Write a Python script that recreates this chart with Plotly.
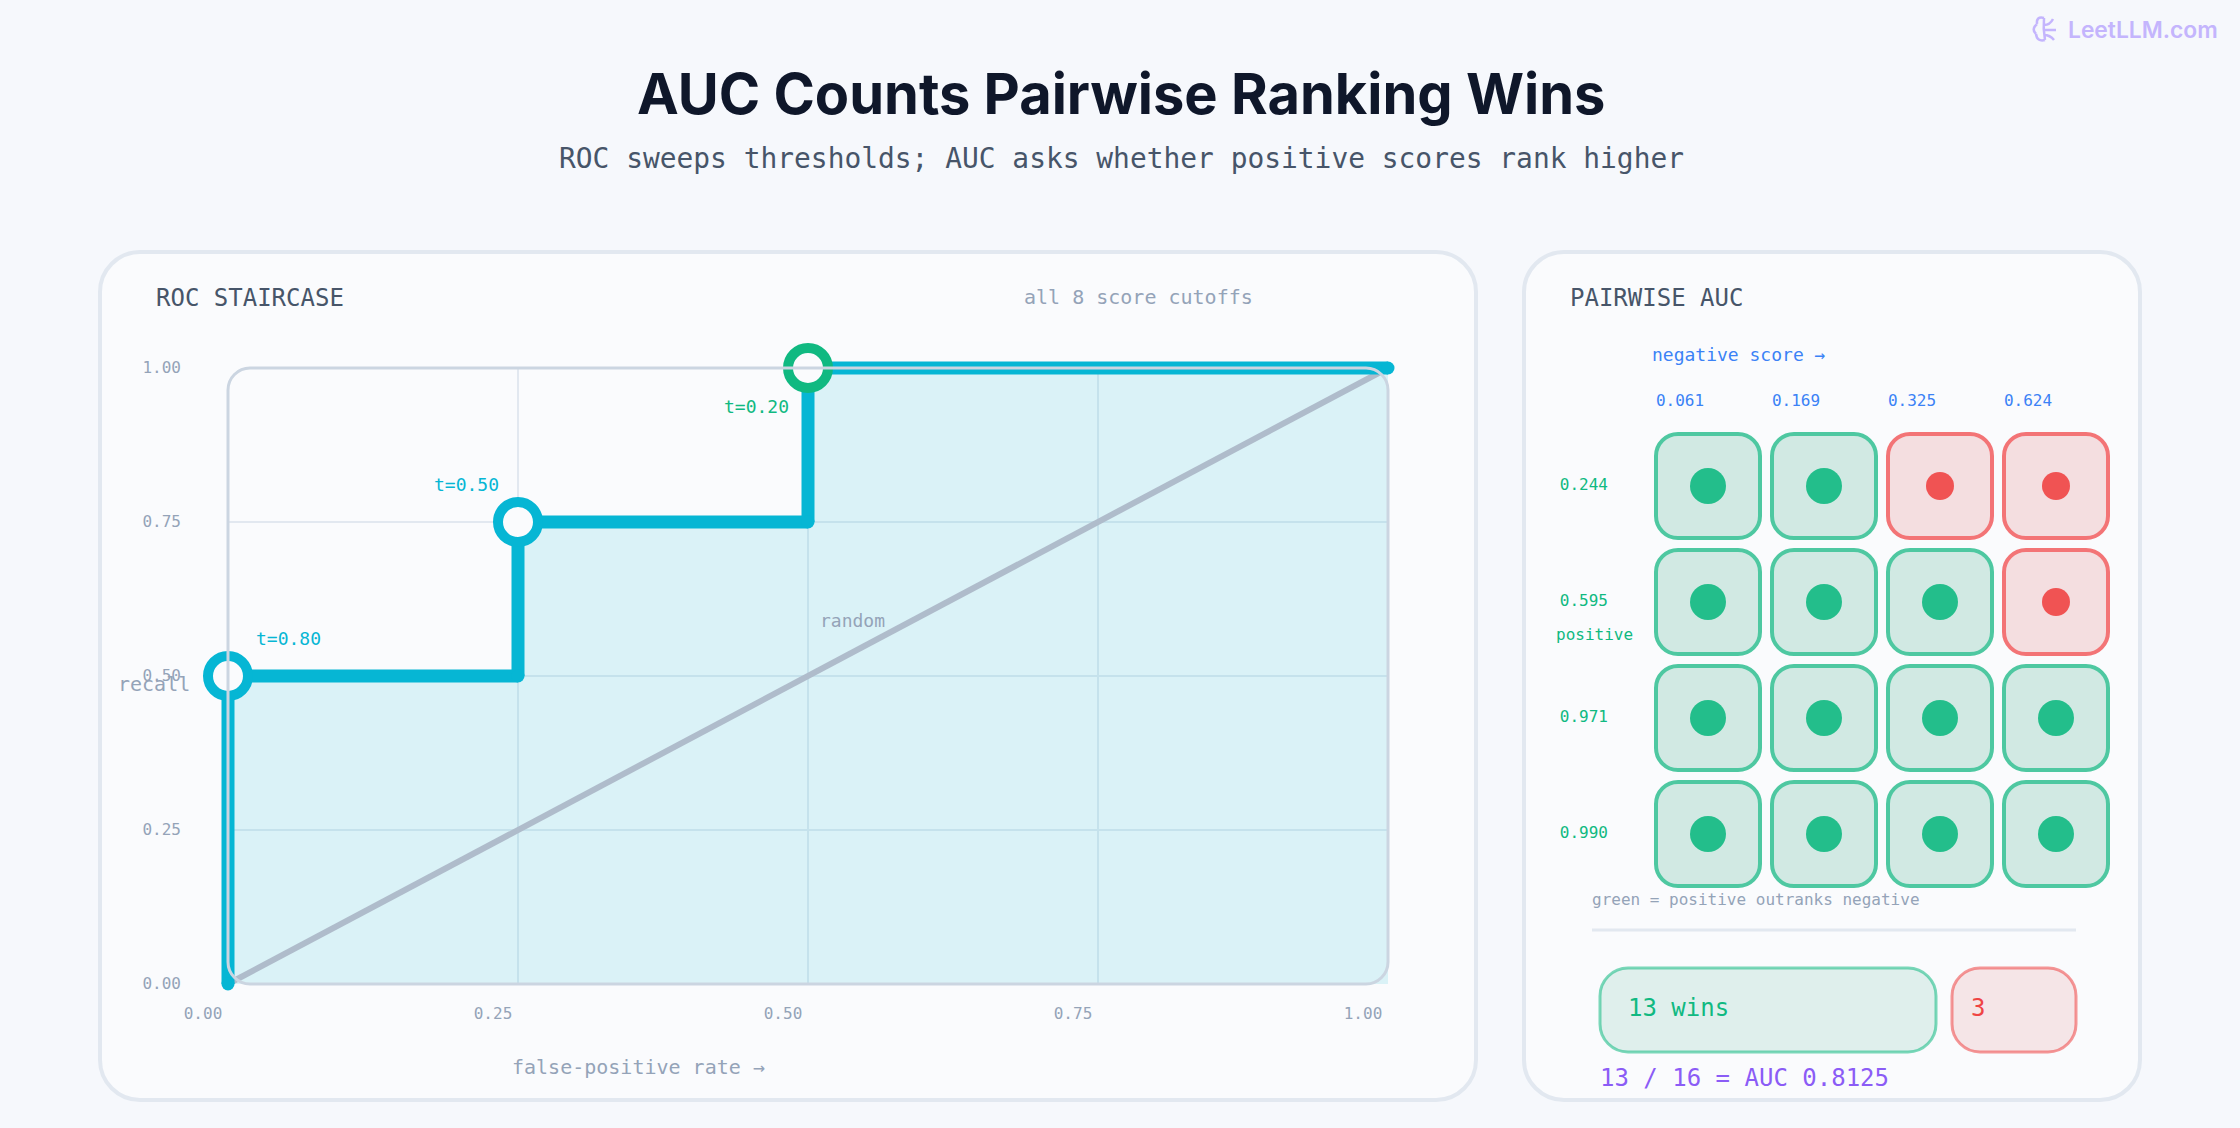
import plotly.graph_objects as go

# ROC staircase
fpr_steps = [0, 0, 0.25, 0.25, 0.5, 0.5, 1]
tpr_steps = [0, 0.5, 0.5, 0.75, 0.75, 1, 1]
cutoff_fpr = [0, 0.25, 0.5]
cutoff_tpr = [0.5, 0.75, 1]
cutoff_names = ["t=0.80", "t=0.50", "t=0.20"]
axis_ticks = [0, 0.25, 0.5, 0.75, 1]
axis_tick_text = ["0.00", "0.25", "0.50", "0.75", "1.00"]

# Pairwise comparison
negative_scores = [0.061, 0.169, 0.325, 0.624]
positive_scores = [0.244, 0.595, 0.971, 0.990]

W, H = 2240, 1128
MONO = "DejaVu Sans Mono"
SANS = "Inter"
BG = "#f6f8fc"
CARD = "#fafbfd"
BORDER = "#e2e8f0"
MUTED = "#94a3b8"
SLATE = "#475569"
CYAN = "#06b6d4"
GREEN = "#10b981"
RED = "#ef4444"
BLUE = "#3b82f6"
VIOLET = "#8b5cf6"
KAPPA = 0.4477  # control-point inset that makes a cubic follow a quarter circle

# Plot box of the ROC chart, and the padding that lets its thick curve overhang the box
ROC_LEFT, ROC_RIGHT, ROC_TOP, ROC_BOTTOM = 228, 1388, 368, 984
OVERHANG = 10
PAD_X = OVERHANG / (ROC_RIGHT - ROC_LEFT)
PAD_Y = OVERHANG / (ROC_BOTTOM - ROC_TOP)


def fx(x):
    return x / W


def fy(y):
    return 1 - y / H


def rounded(x0, y0, x1, y1, rx, ry=None):
    ry = rx if ry is None else ry
    # y may run in either direction, so take the corner offset from its sign
    s = 1 if y1 > y0 else -1
    kx, ky = rx * KAPPA, ry * KAPPA * s
    ryy = ry * s
    return (
        f"M{x0 + rx},{y0} L{x1 - rx},{y0} "
        f"C{x1 - kx},{y0} {x1},{y0 + ky} {x1},{y0 + ryy} "
        f"L{x1},{y1 - ryy} "
        f"C{x1},{y1 - ky} {x1 - kx},{y1} {x1 - rx},{y1} "
        f"L{x0 + rx},{y1} "
        f"C{x0 + kx},{y1} {x0},{y1 - ky} {x0},{y1 - ryy} "
        f"L{x0},{y0 + ryy} "
        f"C{x0},{y0 + ky} {x0 + kx},{y0} {x0 + rx},{y0} Z"
    )


def panel(x0, y0, x1, y1, r, fill, stroke, width):
    return dict(
        type="path", xref="paper", yref="paper", layer="below",
        path=rounded(fx(x0), fy(y0), fx(x1), fy(y1), r / W, r / H),
        fillcolor=fill, line=dict(color=stroke, width=width),
    )


def label(x, y, text, size, color, anchor="left", family=MONO, weight=None):
    font = dict(family=family, size=size, color=color)
    if weight:
        font["weight"] = weight
    return dict(
        xref="paper", yref="paper", x=fx(x), y=fy(y), text=text, showarrow=False,
        xanchor=anchor, yanchor="middle", font=font, borderpad=0, borderwidth=0,
    )


shapes = [
    panel(100, 252, 1476, 1100, 40, CARD, BORDER, 4),
    panel(1524, 252, 2140, 1100, 40, CARD, BORDER, 4),
    dict(type="line", xref="paper", yref="paper", layer="below",
         x0=fx(1592), x1=fx(2076), y0=fy(930), y1=fy(930),
         line=dict(color=BORDER, width=3)),
    panel(1600, 968, 1936, 1052, 28, "#dfefec", "rgba(16,185,129,0.55)", 3),
    panel(1952, 968, 2076, 1052, 28, "#f5e5e7", "rgba(239,68,68,0.55)", 3),
    # Frame of the ROC plot sits over the curve
    dict(type="path", xref="x3", yref="y3", layer="above",
         path=rounded(0, 0, 1, 1, 22 / (ROC_RIGHT - ROC_LEFT), 22 / (ROC_BOTTOM - ROC_TOP)),
         fillcolor="rgba(0,0,0,0)", line=dict(color="#cbd5e1", width=3)),
    # Small brain glyph beside the site name
    dict(type="path", xref="paper", yref="paper", layer="above",
         path=" ".join(
             f"M{fx(a)},{fy(b)} Q{fx(c)},{fy(d)} {fx(e)},{fy(f)}" for a, b, c, d, e, f in [
                 (2044, 18, 2036, 16, 2037, 24), (2037, 24, 2031, 29, 2036, 34),
                 (2036, 34, 2037, 42, 2045, 40), (2044, 18, 2043, 29, 2045, 40),
                 (2044, 25, 2050, 25, 2053, 19), (2044, 30, 2050, 30, 2056, 30),
                 (2044, 35, 2050, 35, 2054, 40),
             ]),
         fillcolor="rgba(0,0,0,0)", line=dict(color="#c4b5fd", width=2.5)),
]

# One rounded cell per pair; the colour comes from comparing the two scores
half = 52 / 116
corner = 22 / 116
win_x, win_y, loss_x, loss_y = [], [], [], []
for row, pos in enumerate(positive_scores):
    for col, neg in enumerate(negative_scores):
        won = pos > neg
        shapes.append(dict(
            type="path", xref="x2", yref="y2", layer="below",
            path=rounded(col - half, row - half, col + half, row + half, corner),
            fillcolor="#d1e9e3" if won else "#f4dee0",
            line=dict(color="#4ec8a1" if won else "#f37476", width=4),
        ))
        (win_x if won else loss_x).append(col)
        (win_y if won else loss_y).append(row)

wins = len(win_x)
total = wins + len(loss_x)

# Separate segments keep the elbows round once a marker caps each vertex
seg_x, seg_y = [], []
for i in range(len(fpr_steps) - 1):
    seg_x += [fpr_steps[i], fpr_steps[i + 1], None]
    seg_y += [tpr_steps[i], tpr_steps[i + 1], None]

fig = go.Figure()
fig.add_trace(go.Scatter(
    x=fpr_steps, y=tpr_steps, mode="none", fill="tozeroy",
    fillcolor="rgba(6,182,212,0.13)", hoverinfo="skip",
))
fig.add_trace(go.Scatter(
    x=[0, 1], y=[0, 1], mode="lines", hoverinfo="skip",
    line=dict(color="#afbccb", width=6),
))
fig.add_trace(go.Scatter(
    x=seg_x, y=seg_y, xaxis="x3", yaxis="y3", mode="lines",
    line=dict(color=CYAN, width=13), hoverinfo="skip",
))
fig.add_trace(go.Scatter(
    x=fpr_steps, y=tpr_steps, xaxis="x3", yaxis="y3", mode="markers", cliponaxis=False,
    marker=dict(color=CYAN, size=13),
))
fig.add_trace(go.Scatter(
    x=cutoff_fpr, y=cutoff_tpr, xaxis="x3", yaxis="y3", mode="markers", cliponaxis=False,
    marker=dict(size=40, color=CARD, line=dict(color=[CYAN, CYAN, GREEN], width=10)),
))
fig.add_trace(go.Scatter(
    x=win_x, y=win_y, xaxis="x2", yaxis="y2", mode="markers",
    marker=dict(size=36, color="rgba(16,185,129,0.9)"),
))
fig.add_trace(go.Scatter(
    x=loss_x, y=loss_y, xaxis="x2", yaxis="y2", mode="markers",
    marker=dict(size=28, color="rgba(239,68,68,0.9)"),
))

annotations = [
    label(1121, 94, "AUC Counts Pairwise Ranking Wins", 56, "#0f172a", "center", SANS, 700),
    label(1121, 158, "ROC sweeps thresholds; AUC asks whether positive scores rank higher", 27.9, SLATE, "center"),
    label(2068, 30, "LeetLLM.com", 22.8, "#c4b5fd", "left", SANS, 600),
    label(156, 298, "ROC STAIRCASE", 24, SLATE),
    label(1024, 297, "all 8 score cutoffs", 20, MUTED),
    label(852, 620, "random", 18, MUTED, "center"),
    label(154, 684, "recall", 20, MUTED, "center"),
    label(638, 1067, "false-positive rate →", 20, MUTED, "center"),
    label(1570, 298, "PAIRWISE AUC", 24, SLATE),
    label(1652, 354, "negative score →", 18, BLUE),
    label(1594, 634, "positive", 16, GREEN, "center"),
    label(1592, 899, "green = positive outranks negative", 16, MUTED),
    label(1628, 1008, f"{wins} wins", 24, GREEN),
    label(1971, 1008, f"{total - wins}", 24, RED),
    label(1600, 1078, f"{wins} / {total} = AUC {wins / total:.4f}", 24, VIOLET),
]
# Cutoff captions hang off their points
for name, x, y, color, dx, dy in zip(
    cutoff_names, cutoff_fpr, cutoff_tpr, [CYAN, CYAN, GREEN], [60, -52, -52], [38, 38, -38]
):
    annotations.append(dict(
        xref="x", yref="y", x=x, y=y, text=name, showarrow=False, xshift=dx, yshift=dy,
        xanchor="center", yanchor="middle", font=dict(family=MONO, size=18, color=color),
    ))

tick_font = dict(family=MONO, size=16, color=MUTED)
fig.update_layout(
    width=W, height=H, autosize=False, showlegend=False,
    margin=dict(l=0, r=0, t=0, b=0),
    paper_bgcolor=BG, plot_bgcolor="rgba(0,0,0,0)",
    shapes=shapes, annotations=annotations,
    xaxis=dict(
        domain=[fx(ROC_LEFT), fx(ROC_RIGHT)], range=[0, 1], tickmode="array", automargin=False,
        tickvals=axis_ticks, ticktext=axis_tick_text, tickfont=tick_font,
        gridcolor=BORDER, gridwidth=2, zeroline=False, showline=False,
        ticks="", ticklabelstandoff=18, ticklabelshift=-25, fixedrange=True,
    ),
    yaxis=dict(
        domain=[fy(ROC_BOTTOM), fy(ROC_TOP)], range=[0, 1], tickmode="array", automargin=False,
        tickvals=axis_ticks, ticktext=axis_tick_text, tickfont=tick_font,
        gridcolor=BORDER, gridwidth=2, zeroline=False, showline=False,
        ticks="", ticklabelstandoff=46, ticklabelshift=-1, fixedrange=True,
    ),
    # Same scale as the plot box, a little wider, so the curve is not cut at the edge
    xaxis3=dict(
        domain=[fx(ROC_LEFT - OVERHANG), fx(ROC_RIGHT + OVERHANG)],
        range=[-PAD_X, 1 + PAD_X], anchor="y3", visible=False, fixedrange=True, automargin=False,
    ),
    yaxis3=dict(
        domain=[fy(ROC_BOTTOM + OVERHANG), fy(ROC_TOP - OVERHANG)],
        range=[-PAD_Y, 1 + PAD_Y], anchor="x3", visible=False, fixedrange=True, automargin=False,
    ),
    xaxis2=dict(
        domain=[fx(1650), fx(2114)], range=[-0.5, 3.5], anchor="y2", side="top", automargin=False,
        tickmode="array", tickvals=list(range(4)),
        ticktext=[f"{v:.3f}" for v in negative_scores],
        tickfont=dict(family=MONO, size=16, color=BLUE),
        showgrid=False, zeroline=False, showline=False, ticks="",
        ticklabelstandoff=18, ticklabelshift=-28, fixedrange=True,
    ),
    yaxis2=dict(
        domain=[fy(892), fy(428)], range=[3.5, -0.5], anchor="x2", automargin=False,
        tickmode="array", tickvals=list(range(4)),
        ticktext=[f"{v:.3f}" for v in positive_scores],
        tickfont=dict(family=MONO, size=16, color=GREEN),
        showgrid=False, zeroline=False, showline=False, ticks="",
        ticklabelstandoff=41, ticklabelshift=2, fixedrange=True,
    ),
)

fig.write_html("out.html")
